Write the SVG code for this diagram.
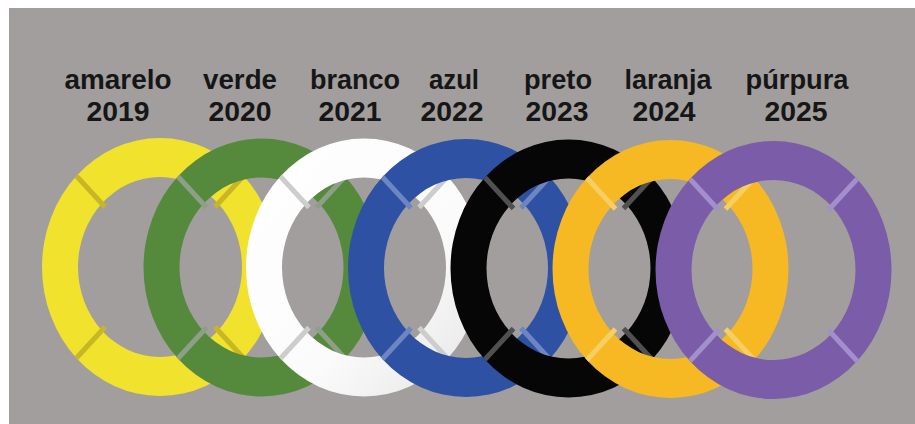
<svg xmlns="http://www.w3.org/2000/svg" xmlns:xlink="http://www.w3.org/1999/xlink" width="915" height="424" viewBox="0 0 915 424">
<style>
.lbl{font-family:"Liberation Sans",Arial,sans-serif;font-weight:bold;font-size:28px;fill:#161616;text-anchor:middle}
.st{stroke-width:5;fill:none}
</style>
<defs>
<path id="ring" fill-rule="evenodd" d="M-118,0 a118,129 0 1,0 236,0 a118,129 0 1,0 -236,0 Z M-82,0 a82,90 0 1,0 164,0 a82,90 0 1,0 -164,0 Z"/>
<clipPath id="rc"><use xlink:href="#ring" href="#ring"/></clipPath>
<path id="stripes" d="M55,60 L90,98 M-55,60 L-90,98 M55,-60 L90,-98 M-55,-60 L-90,-98"/>
<linearGradient id="wg" x1="0" y1="0" x2="1" y2="1">
<stop offset="0" stop-color="#ffffff"/>
<stop offset="0.6" stop-color="#fbfbfb"/>
<stop offset="1" stop-color="#e4e4e4"/>
</linearGradient>
</defs>
<rect x="0" y="0" width="915" height="424" fill="#ffffff"/>
<rect x="9" y="8" width="906" height="416" fill="#a19e9d"/>
<g id="connectors"/>
<g id="amarelo">
<text class="lbl" x="118" y="89" textLength="107" lengthAdjust="spacingAndGlyphs">amarelo</text>
<text class="lbl" x="118" y="121" textLength="63" lengthAdjust="spacingAndGlyphs">2019</text>
<g transform="translate(160,267)">
<use xlink:href="#ring" href="#ring" fill="#f1e22e"/>
<use xlink:href="#stripes" href="#stripes" class="st" stroke="#c7b625" clip-path="url(#rc)"/>
</g>
</g>
<g id="verde">
<text class="lbl" x="240" y="89" textLength="74" lengthAdjust="spacingAndGlyphs">verde</text>
<text class="lbl" x="240" y="121" textLength="63" lengthAdjust="spacingAndGlyphs">2020</text>
<g transform="translate(261.5,267.5)">
<use xlink:href="#ring" href="#ring" fill="#558a3d"/>
<use xlink:href="#stripes" href="#stripes" class="st" stroke="#8d9f86" clip-path="url(#rc)"/>
</g>
</g>
<g id="branco">
<text class="lbl" x="355" y="89" textLength="90" lengthAdjust="spacingAndGlyphs">branco</text>
<text class="lbl" x="350" y="121" textLength="63" lengthAdjust="spacingAndGlyphs">2021</text>
<g transform="translate(364,267.5)">
<use xlink:href="#ring" href="#ring" fill="url(#wg)"/>
<use xlink:href="#stripes" href="#stripes" class="st" stroke="#cdcdcd" clip-path="url(#rc)"/>
</g>
</g>
<g id="azul">
<text class="lbl" x="454" y="89" textLength="50" lengthAdjust="spacingAndGlyphs">azul</text>
<text class="lbl" x="452" y="121" textLength="63" lengthAdjust="spacingAndGlyphs">2022</text>
<g transform="translate(466,268)">
<use xlink:href="#ring" href="#ring" fill="#2f51a4"/>
<use xlink:href="#stripes" href="#stripes" class="st" stroke="#6d86c2" clip-path="url(#rc)"/>
</g>
</g>
<g id="preto">
<text class="lbl" x="558" y="89" textLength="68" lengthAdjust="spacingAndGlyphs">preto</text>
<text class="lbl" x="557" y="121" textLength="63" lengthAdjust="spacingAndGlyphs">2023</text>
<g transform="translate(568.5,268.5)">
<use xlink:href="#ring" href="#ring" fill="#060606"/>
<use xlink:href="#stripes" href="#stripes" class="st" stroke="#505050" clip-path="url(#rc)"/>
</g>
</g>
<g id="laranja">
<text class="lbl" x="668" y="89" textLength="87" lengthAdjust="spacingAndGlyphs">laranja</text>
<text class="lbl" x="664" y="121" textLength="63" lengthAdjust="spacingAndGlyphs">2024</text>
<g transform="translate(670.5,269)">
<use xlink:href="#ring" href="#ring" fill="#f6b924"/>
<use xlink:href="#stripes" href="#stripes" class="st" stroke="#f5cf63" clip-path="url(#rc)"/>
</g>
</g>
<g id="purpura">
<text class="lbl" x="797" y="89" textLength="103" lengthAdjust="spacingAndGlyphs">púrpura</text>
<text class="lbl" x="796" y="121" textLength="63" lengthAdjust="spacingAndGlyphs">2025</text>
<g transform="translate(773.5,270)">
<use xlink:href="#ring" href="#ring" fill="#7a5ca8"/>
<use xlink:href="#stripes" href="#stripes" class="st" stroke="#a28fcb" clip-path="url(#rc)"/>
</g>
</g>
</svg>
